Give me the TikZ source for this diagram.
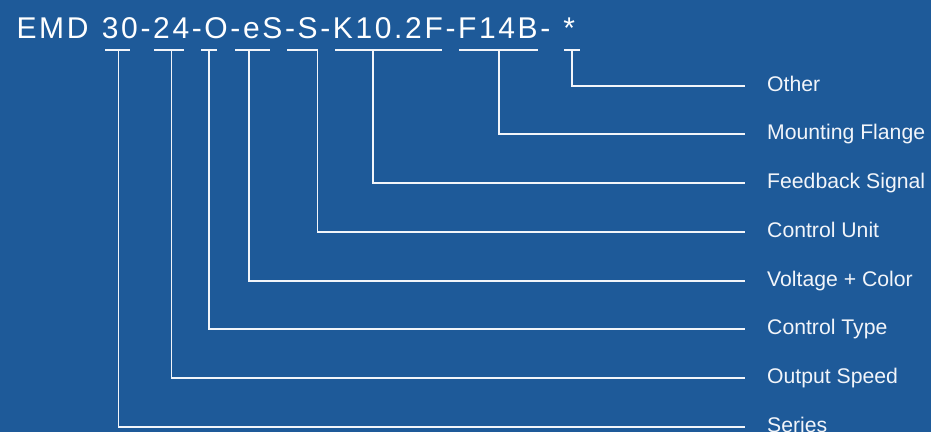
\documentclass[tikz,border=0pt]{standalone}
\usepackage{fontspec}
\setmainfont{Liberation Sans}
\newfontfamily\titlefont[LetterSpace=8.8]{Liberation Sans}
\definecolor{bgblue}{HTML}{1E5A99}
\definecolor{linewhite}{HTML}{F2F5FA}
\begin{document}
\begin{tikzpicture}[x=1pt,y=-1pt,
  wire/.style={draw=linewhite,line width=1.3pt},
  lab/.style={anchor=base west,inner sep=0pt,text=linewhite,font=\fontsize{21.2}{24}\selectfont},
  ttl/.style={anchor=base west,inner sep=0pt,text=white,font=\titlefont\fontsize{30}{34}\selectfont}]
\fill[bgblue] (0,0) rectangle (931,432);
\useasboundingbox (0,0) rectangle (931,432);
\node[ttl] (title) at (16.3,38.3) {EMD\hspace{2.5pt} 30-24-O-eS-S-K10.2F-F14B-\hspace{2pt} *};
% underline bars
\foreach \n/\a/\b in {b1/105/130,b2/154/184,b3/201/217,b4/235/270,b5/287/318,b6/335/442,b7/459/538,b8/564/580}{
  \coordinate (\n l) at (\a,50);
  \coordinate (\n r) at (\b,50);
  \draw[wire] (\n l) -- (\n r);
}
% tap points and label lines
\foreach \n/\x/\y/\t in {t1/118.5/427/Series,t2/171.5/378/Output Speed,t3/209/329/Control Type,t4/249/281/Voltage + Color,t5/317.5/232/Control Unit,t6/373/183/Feedback Signal,t7/499/134/Mounting Flange,t8/572/86/Other}{
  \coordinate (\n top) at (\x,50);
  \coordinate (\n c) at (\x,\y);
  \coordinate (\n e) at (745,\y);
  \node[lab] (\n lab) at (767,\y+5.2) {\t};
  \draw[wire] (\n top) -- (\n c) -- (\n e);
}
\end{tikzpicture}
\end{document}
